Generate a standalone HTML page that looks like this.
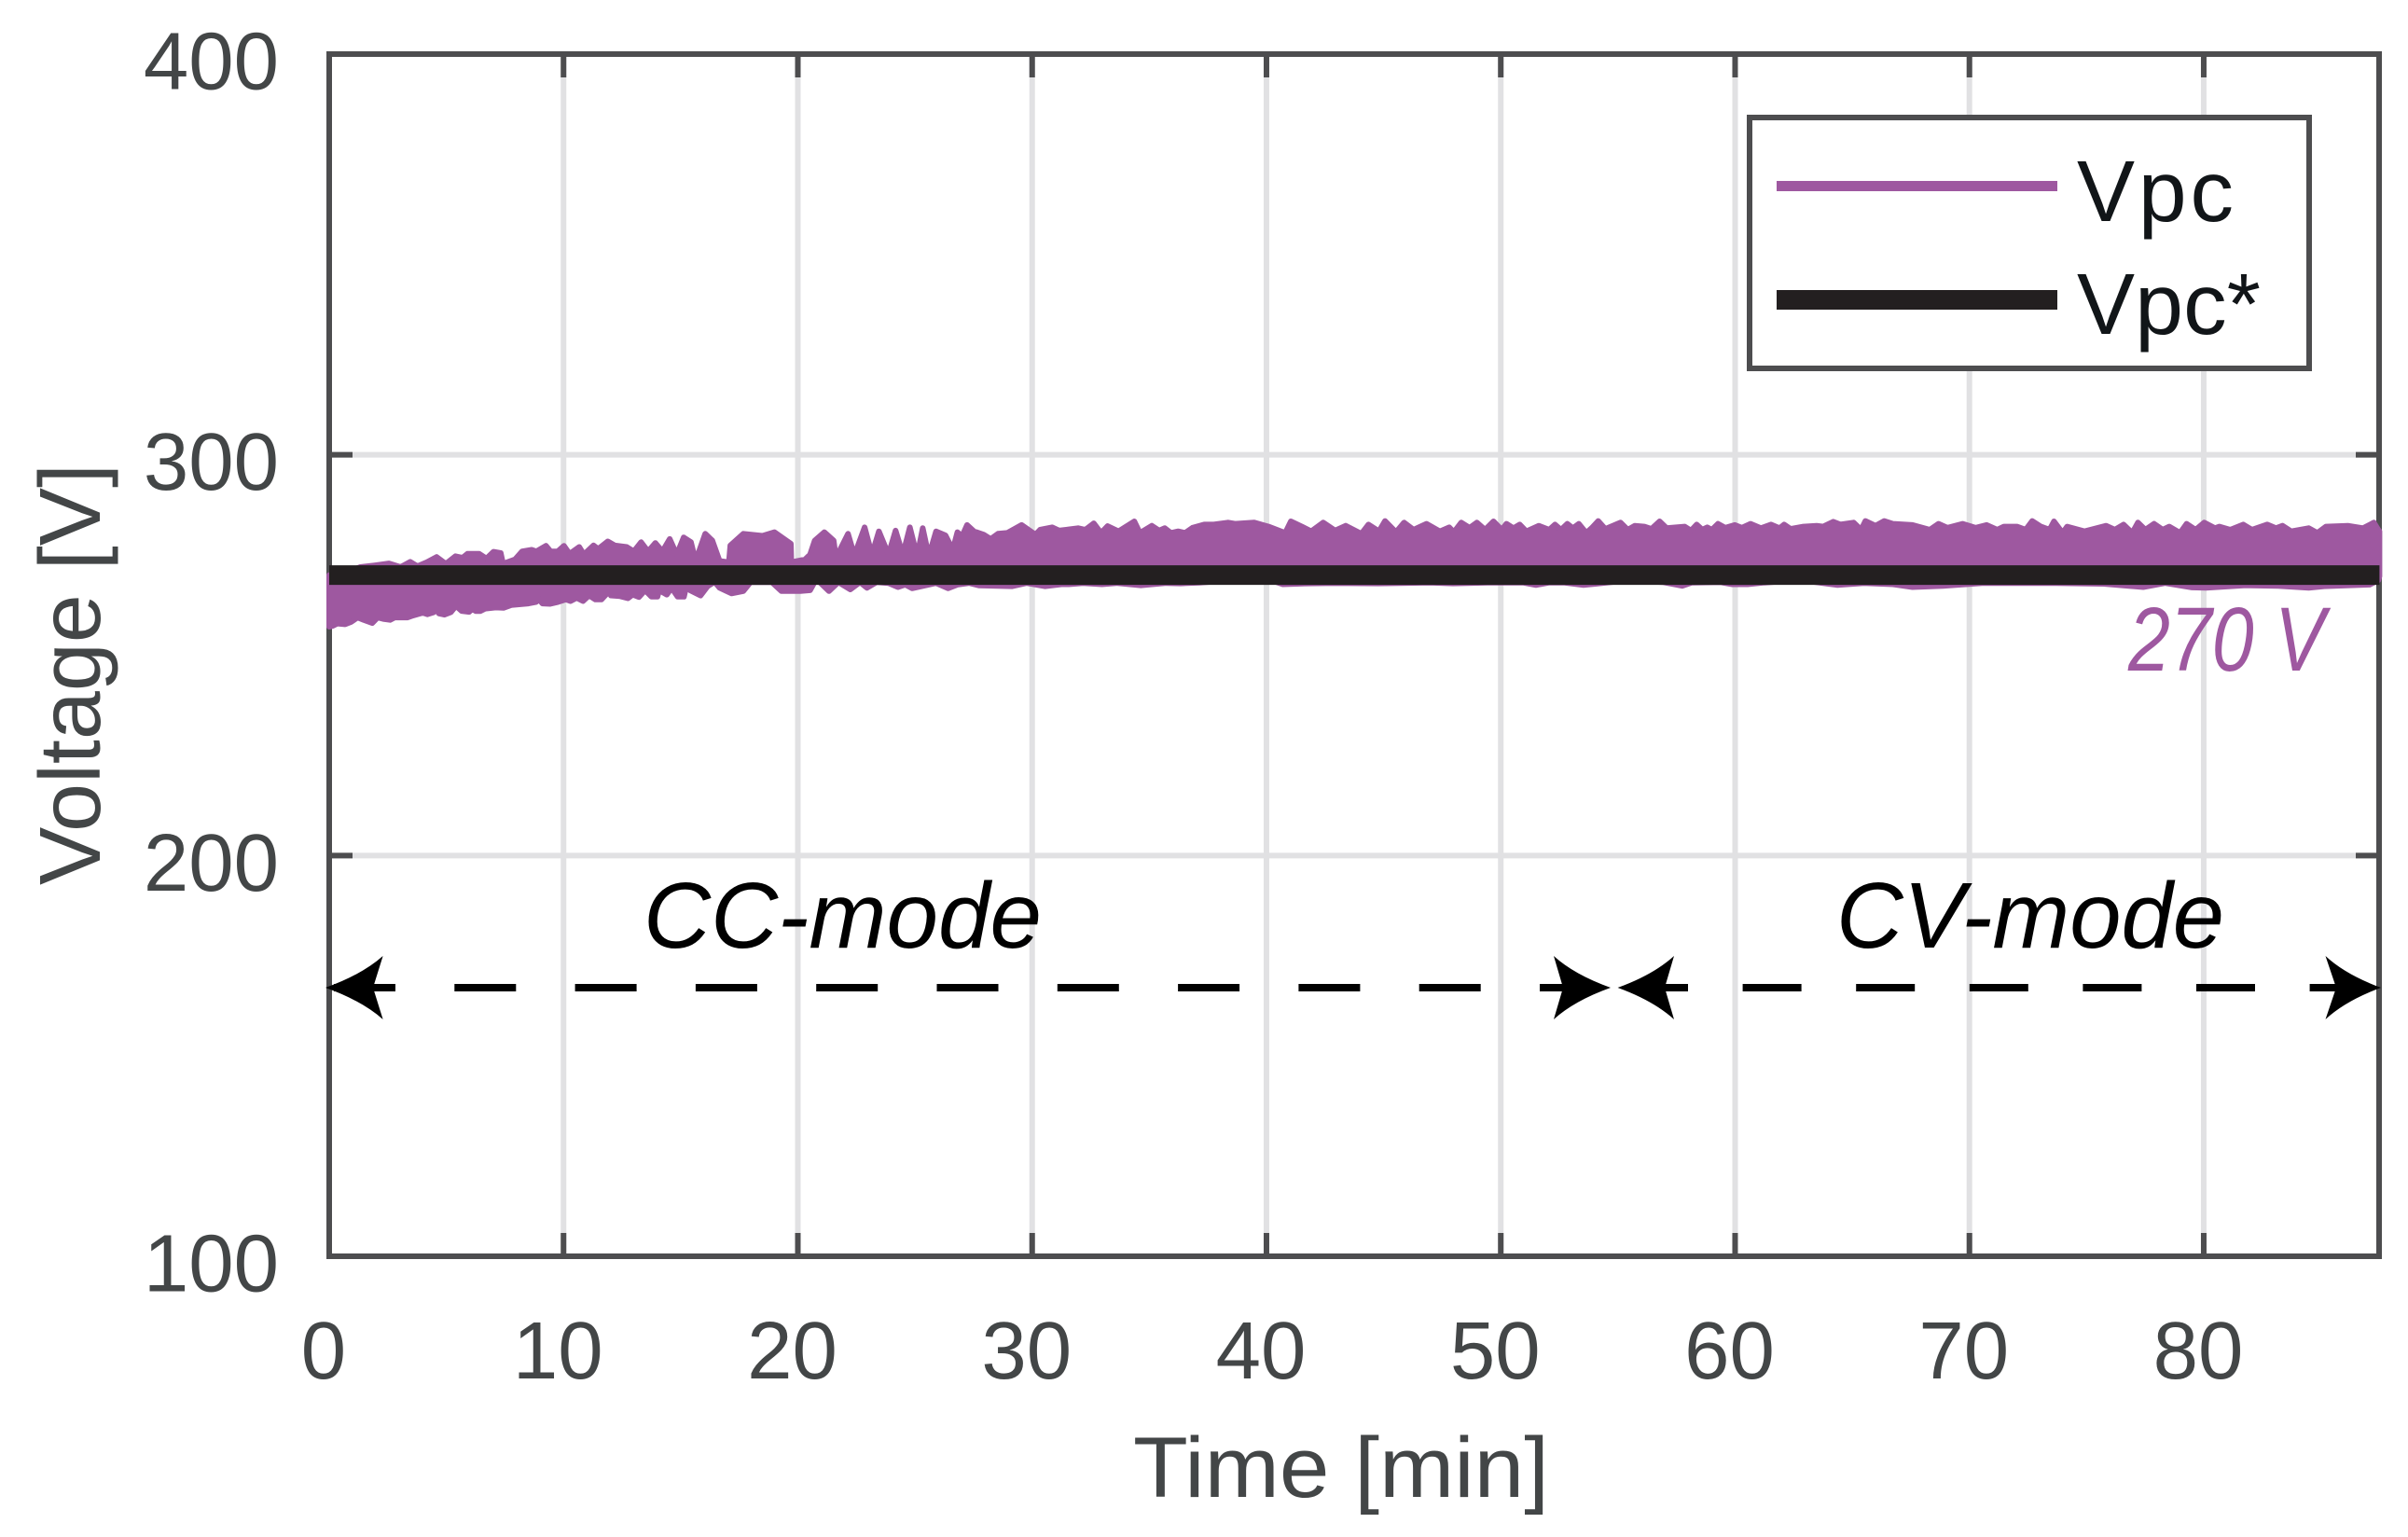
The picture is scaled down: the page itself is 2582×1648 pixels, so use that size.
<!DOCTYPE html>
<html lang="en">
<head>
<meta charset="utf-8">
<title>Voltage vs Time</title>
<style>
html,body{margin:0;padding:0;background:#fff;}
svg{display:block;}
text{font-family:"Liberation Sans",Arial,sans-serif;}
</style>
</head>
<body>
<svg id="chart" xmlns="http://www.w3.org/2000/svg" width="2582" height="1648" viewBox="0 0 2582 1648">
  <rect x="0" y="0" width="2582" height="1648" fill="#ffffff"/>
  <g id="grid"></g>
  <g id="ticks"></g>
  <rect x="353" y="58" width="2198" height="1289" fill="none" stroke="#4d4d4f" stroke-width="6"/>
  <g id="series"></g>
  <g id="tick-labels"></g>

  <text x="107" y="949" transform="rotate(-90 107 949)" font-size="93" fill="#434647" textLength="452" lengthAdjust="spacingAndGlyphs">Voltage [V]</text>
  <text x="1215" y="1605" font-size="92" fill="#434647" textLength="446" lengthAdjust="spacingAndGlyphs">Time [min]</text>

  <text x="2282" y="719" font-size="97" font-style="italic" fill="#9e58a0" textLength="211" lengthAdjust="spacingAndGlyphs">270 V</text>

  <text x="690" y="1016" font-size="100" font-style="italic" fill="#000" textLength="427" lengthAdjust="spacingAndGlyphs">CC-mode</text>
  <text x="1969" y="1016" font-size="100" font-style="italic" fill="#000" textLength="416" lengthAdjust="spacingAndGlyphs">CV-mode</text>

  <line x1="358" y1="1059" x2="1718" y2="1059" stroke="#000" stroke-width="8" stroke-dasharray="66 63.3"/>
  <line x1="1785" y1="1059" x2="2510" y2="1059" stroke="#000" stroke-width="8" stroke-dasharray="63 58.6" stroke-dashoffset="38"/>
  <path d="M349 1059 Q388 1045 410.6 1025 L400 1059 L410.6 1093 Q388 1073 349 1059 Z" fill="#000"/>
  <path d="M1727 1059 Q1688 1045 1666 1025 L1676 1059 L1666 1093 Q1688 1073 1727 1059 Z" fill="#000"/>
  <path d="M1734.6 1059 Q1773 1045 1795 1025 L1785 1059 L1795 1093 Q1773 1073 1734.6 1059 Z" fill="#000"/>
  <path d="M2553 1059 Q2515 1045 2493.5 1025 L2505 1059 L2493.5 1093 Q2515 1073 2553 1059 Z" fill="#000"/>

  <g>
    <rect x="1876" y="126" width="600" height="269" fill="#ffffff" stroke="#4d4d4f" stroke-width="6"/>
    <line x1="1905" y1="199.5" x2="2206" y2="199.5" stroke="#9e58a0" stroke-width="11"/>
    <line x1="1905" y1="321.5" x2="2206" y2="321.5" stroke="#231f20" stroke-width="21"/>
    <text x="2227" y="237" font-size="93" fill="#111518" textLength="168" lengthAdjust="spacing">Vpc</text>
    <text x="2227" y="358" font-size="93" fill="#111518" textLength="197" lengthAdjust="spacing">Vpc*</text>
  </g>
</svg>

<script>
var xTicks = [0, 10, 20, 30, 40, 50, 60, 70, 80];
var xTickLabels = ['0', '10', '20', '30', '40', '50', '60', '70', '80'];
var yTicks = [100, 200, 300, 400];
var yTickLabels = ['100', '200', '300', '400'];

var referenceTime = [0, 87.5];
var referenceVolt = [270, 270];

var upperTime = [0, 0.05, 1.33, 1.94, 2.55, 3.05, 3.46, 3.76, 4.17, 4.58, 4.98, 5.39, 5.69, 5.90, 6.40, 6.71, 7.01, 7.32, 7.42, 7.93, 8.23, 8.64, 8.84, 9.25, 9.45, 9.75, 10.02, 10.26, 10.67, 10.87, 11.28, 11.48, 11.89, 12.19, 12.70, 13.00, 13.31, 13.61, 13.92, 14.22, 14.53, 14.83, 15.13, 15.44, 15.64, 16.05, 16.35, 16.66, 17.06, 17.12, 17.67, 18.49, 19.00, 19.70, 19.72, 20.31, 20.52, 20.72, 21.13, 21.53, 21.63, 22.14, 22.34, 22.45, 22.85, 23.16, 23.46, 23.87, 24.17, 24.48, 24.78, 25.09, 25.33, 25.59, 25.90, 26.30, 26.61, 26.81, 27.01, 27.22, 27.52, 27.93, 28.23, 28.54, 28.94, 29.55, 30.14, 30.34, 30.85, 31.15, 31.56, 31.96, 32.27, 32.63, 32.94, 33.22, 33.69, 34.36, 34.60, 35.11, 35.42, 35.66, 35.92, 36.23, 36.53, 36.84, 37.34, 37.75, 38.36, 38.66, 39.48, 40.09, 40.80, 41.04, 41.51, 41.91, 42.42, 42.93, 43.38, 44.05, 44.35, 44.80, 45.06, 45.53, 45.87, 46.28, 46.83, 47.40, 47.80, 48.00, 48.31, 48.67, 48.98, 49.33, 49.69, 50.04, 50.24, 50.54, 50.81, 51.09, 51.62, 52.07, 52.31, 52.57, 52.84, 53.08, 53.33, 53.65, 53.89, 54.16, 54.46, 55.11, 55.42, 55.72, 56.13, 56.43, 56.78, 57.08, 57.85, 58.12, 58.36, 58.60, 58.81, 59.01, 59.27, 59.58, 59.99, 60.29, 60.66, 61.10, 61.53, 61.90, 62.09, 62.37, 62.92, 63.48, 63.76, 64.19, 64.50, 65.06, 65.38, 65.56, 65.99, 66.36, 66.73, 67.57, 68.31, 68.68, 69.06, 69.71, 70.26, 70.73, 71.19, 71.47, 72.03, 72.40, 72.68, 73.05, 73.42, 73.61, 73.98, 74.17, 74.91, 75.84, 76.21, 76.58, 76.95, 77.19, 77.51, 77.88, 78.25, 78.53, 78.99, 79.27, 79.65, 80.02, 80.48, 80.67, 81.13, 81.69, 82.06, 82.71, 83.08, 83.36, 83.73, 84.48, 84.85, 85.22, 86.15, 86.80, 87.26, 87.45, 87.50];
var upperVolt = [270.7, 270.0, 272.7, 273.1, 273.6, 272.7, 274.0, 272.9, 273.9, 275.2, 273.5, 275.4, 275.0, 276.0, 276.0, 274.8, 276.5, 276.2, 273.5, 274.6, 276.6, 277.0, 276.6, 278.0, 276.6, 276.6, 278.0, 276.0, 277.7, 275.8, 278.1, 277.2, 279.1, 278.1, 277.7, 276.6, 278.9, 276.6, 278.7, 276.6, 279.7, 275.8, 280.1, 278.9, 274.2, 281.0, 279.3, 274.2, 273.9, 278.1, 281.0, 280.5, 281.4, 278.5, 273.9, 274.6, 275.8, 279.3, 281.4, 279.3, 275.0, 281.0, 277.0, 276.2, 282.6, 275.8, 281.6, 275.8, 281.8, 275.8, 282.6, 275.4, 282.4, 275.4, 281.6, 280.6, 277.0, 281.4, 280.4, 283.2, 281.6, 280.8, 279.7, 281.0, 281.2, 283.2, 280.8, 282.0, 282.6, 281.8, 282.1, 282.4, 282.0, 283.6, 281.2, 282.9, 281.6, 284.1, 281.2, 283.0, 281.8, 282.4, 281.2, 281.6, 281.2, 282.5, 283.3, 283.3, 283.8, 283.5, 283.8, 282.8, 281.2, 284.1, 282.8, 281.6, 283.8, 281.8, 283.0, 281.0, 283.3, 281.6, 284.2, 281.4, 283.8, 282.0, 283.5, 281.6, 282.6, 281.4, 283.8, 282.5, 283.8, 282.0, 284.1, 282.0, 283.5, 282.4, 283.3, 281.6, 283.0, 282.0, 283.3, 282.0, 283.5, 282.4, 283.5, 281.2, 282.5, 284.2, 282.2, 283.8, 282.0, 283.0, 282.8, 282.2, 284.1, 282.4, 282.8, 281.8, 283.3, 282.0, 282.6, 282.0, 283.5, 282.5, 283.2, 282.5, 283.5, 282.4, 283.3, 282.4, 283.3, 282.2, 282.8, 283.0, 282.8, 284.0, 283.3, 283.8, 282.0, 284.2, 283.0, 284.2, 283.5, 283.2, 282.0, 283.5, 282.5, 283.5, 282.5, 283.2, 282.0, 282.8, 282.8, 282.0, 284.2, 282.8, 282.0, 284.1, 281.2, 282.8, 281.6, 283.0, 282.0, 283.3, 281.2, 283.8, 282.0, 283.5, 282.0, 282.8, 281.2, 283.5, 282.0, 283.8, 282.4, 282.8, 282.0, 283.3, 282.0, 283.3, 282.4, 283.0, 281.6, 282.4, 281.2, 282.8, 283.0, 282.4, 283.8, 282.0, 281.6];

var lowerTime = [0, 0.15, 0.35, 0.68, 0.94, 1.21, 1.47, 1.84, 2.07, 2.34, 2.60, 2.80, 3.33, 3.53, 4.00, 4.19, 4.46, 4.52, 4.68, 4.92, 5.19, 5.41, 5.65, 5.98, 6.08, 6.25, 6.45, 6.65, 7.11, 7.44, 7.77, 8.50, 8.84, 8.90, 9.10, 9.43, 9.77, 10.10, 10.30, 10.56, 10.83, 11.09, 11.36, 11.62, 11.95, 12.02, 12.42, 12.75, 12.95, 13.22, 13.48, 13.75, 14.01, 14.08, 14.41, 14.61, 14.87, 15.14, 15.27, 15.40, 15.85, 16.15, 16.45, 16.66, 17.17, 17.67, 17.98, 18.89, 19.30, 20.11, 20.52, 20.72, 20.92, 21.33, 21.73, 22.24, 22.65, 22.95, 23.36, 23.87, 24.27, 24.58, 24.88, 25.29, 25.90, 26.41, 26.81, 27.32, 27.72, 29.15, 29.76, 30.54, 31.25, 31.56, 32.17, 32.98, 33.59, 34.64, 35.72, 36.33, 37.14, 38.50, 40.19, 40.70, 41.81, 42.89, 44.76, 46.99, 47.96, 49.43, 50.95, 51.50, 52.07, 52.68, 53.53, 54.04, 55.50, 56.94, 57.75, 58.16, 59.38, 59.88, 60.53, 61.25, 62.80, 64.37, 65.50, 66.73, 67.57, 68.87, 70.54, 72.60, 73.70, 75.74, 77.42, 78.35, 79.50, 80.10, 81.70, 83.18, 84.48, 85.13, 87.08, 87.45, 87.50];
var lowerVolt = [256.4, 256.6, 257.2, 257.0, 257.6, 258.7, 258.1, 257.3, 258.7, 258.3, 258.1, 258.7, 258.7, 259.1, 259.9, 259.5, 260.0, 261.6, 259.7, 259.4, 260.0, 261.6, 260.3, 260.1, 260.9, 260.3, 260.3, 260.9, 261.2, 261.1, 261.8, 262.2, 262.6, 263.6, 262.2, 262.1, 262.6, 263.2, 262.8, 263.6, 262.8, 264.2, 263.2, 263.2, 265.3, 264.2, 264.0, 263.5, 264.4, 263.8, 265.5, 263.9, 263.9, 265.5, 264.4, 266.1, 263.9, 263.9, 267.3, 265.5, 264.2, 266.5, 267.6, 266.1, 264.7, 265.3, 267.5, 267.5, 265.3, 265.3, 265.5, 267.6, 267.6, 265.3, 267.5, 265.7, 267.5, 266.1, 267.5, 267.3, 266.3, 266.9, 266.0, 266.5, 267.3, 266.0, 266.9, 267.3, 266.7, 266.5, 267.3, 266.5, 267.0, 267.0, 267.3, 267.0, 267.3, 266.7, 267.3, 267.2, 267.4, 268.0, 268.0, 267.0, 267.2, 267.3, 267.2, 267.4, 267.2, 267.4, 267.4, 266.8, 267.4, 267.4, 266.8, 267.1, 268.0, 267.5, 266.6, 267.4, 267.5, 267.0, 267.0, 267.4, 268.0, 266.8, 267.3, 267.0, 266.3, 266.6, 267.3, 267.3, 267.3, 267.1, 266.3, 267.3, 266.2, 266.1, 266.7, 266.6, 266.1, 266.5, 266.9, 268.0, 269.0];

var svgNS = 'http://www.w3.org/2000/svg';
var plotLeft = 353;
var plotRight = 2551;
var plotTop = 58;
var plotBottom = 1347;
var xMax = 87.484;
var yMin = 100;
var yMax = 400;
var tickLength = 25;
var envelopeStroke = 6;

function xScale(minutes) {
  return plotLeft + (minutes / xMax) * (plotRight - plotLeft);
}
function yScale(volts) {
  return plotBottom - ((volts - yMin) / (yMax - yMin)) * (plotBottom - plotTop);
}
function makeLine(parent, x1, y1, x2, y2, color, width) {
  var el = document.createElementNS(svgNS, 'line');
  el.setAttribute('x1', x1);
  el.setAttribute('y1', y1);
  el.setAttribute('x2', x2);
  el.setAttribute('y2', y2);
  el.setAttribute('stroke', color);
  el.setAttribute('stroke-width', width);
  parent.appendChild(el);
  return el;
}
function makeLabel(parent, x, y, anchor, content) {
  var el = document.createElementNS(svgNS, 'text');
  el.setAttribute('x', x);
  el.setAttribute('y', y);
  el.setAttribute('text-anchor', anchor);
  el.setAttribute('font-size', '87');
  el.setAttribute('fill', '#434647');
  el.textContent = content;
  parent.appendChild(el);
  return el;
}

var gridLayer = document.getElementById('grid');
var tickLayer = document.getElementById('ticks');
var labelLayer = document.getElementById('tick-labels');
var seriesLayer = document.getElementById('series');
var axisColor = '#4d4d4f';
var gridColor = '#e1e1e3';

xTicks.forEach(function (value, i) {
  var x = xScale(value);
  if (value !== 0) {
    var gridLine = makeLine(gridLayer, x, plotTop, x, plotBottom, gridColor, 6);
    
    
    var tickBottom = makeLine(tickLayer, x, plotBottom, x, plotBottom - tickLength, axisColor, 6);
    
    
    var tickTop = makeLine(tickLayer, x, plotTop, x, plotTop + tickLength, axisColor, 6);
    
    
  }
  var xLabel = makeLabel(labelLayer, x - 6, 1478, 'middle', xTickLabels[i]);
  
  
});

yTicks.forEach(function (value, i) {
  var y = yScale(value);
  if (value !== yMin && value !== yMax) {
    var gridLine = makeLine(gridLayer, plotLeft, y, plotRight, y, gridColor, 6);
    
    
    var tickLeft = makeLine(tickLayer, plotLeft, y, plotLeft + tickLength, y, axisColor, 6);
    
    
    var tickRight = makeLine(tickLayer, plotRight, y, plotRight - tickLength, y, axisColor, 6);
    
    
  }
  var yLabel = makeLabel(labelLayer, 299, y + 37.5, 'end', yTickLabels[i]);
  
  
});

var bandPoints = [];
upperTime.forEach(function (t, i) {
  bandPoints.push(xScale(t).toFixed(1) + ',' + (yScale(upperVolt[i]) + envelopeStroke / 2).toFixed(1));
});
for (var j = lowerTime.length - 1; j >= 0; j--) {
  bandPoints.push(xScale(lowerTime[j]).toFixed(1) + ',' + (yScale(lowerVolt[j]) - envelopeStroke / 2).toFixed(1));
}
var band = document.createElementNS(svgNS, 'polygon');
band.setAttribute('points', bandPoints.join(' '));
band.setAttribute('fill', '#9e58a0');
band.setAttribute('stroke', '#9e58a0');
band.setAttribute('stroke-width', envelopeStroke);
band.setAttribute('stroke-linejoin', 'round');


seriesLayer.appendChild(band);

var refPoints = referenceTime.map(function (t, i) {
  return xScale(t).toFixed(1) + ',' + yScale(referenceVolt[i]).toFixed(1);
});
var refLine = document.createElementNS(svgNS, 'polyline');
refLine.setAttribute('points', refPoints.join(' '));
refLine.setAttribute('fill', 'none');
refLine.setAttribute('stroke', '#231f20');
refLine.setAttribute('stroke-width', '21');


seriesLayer.appendChild(refLine);
</script>
</body>
</html>
